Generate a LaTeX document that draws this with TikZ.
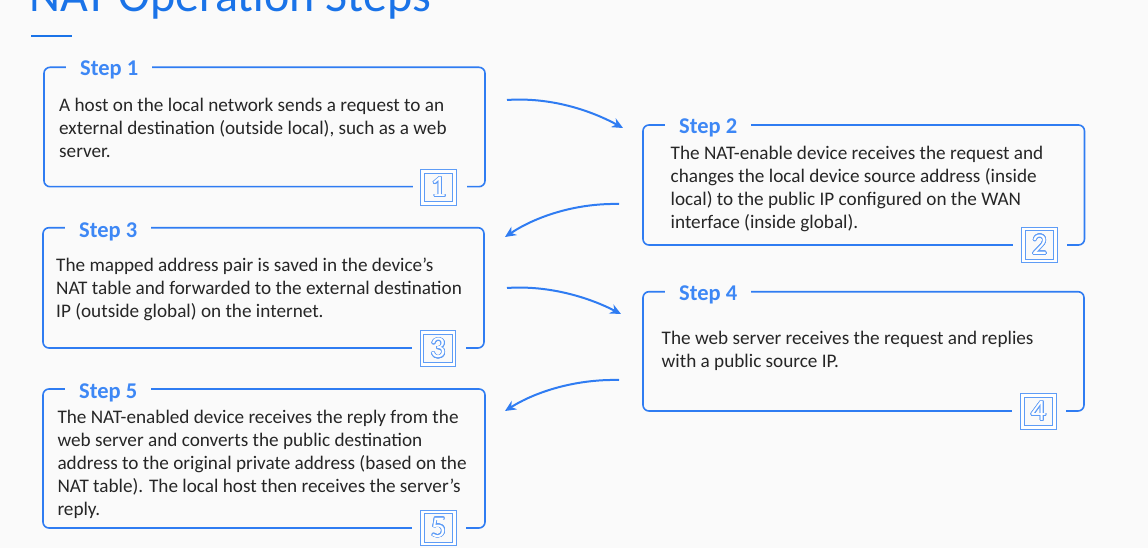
\documentclass[tikz,border=0pt]{standalone}
\usepackage{fontspec}
\setmainfont{Carlito}
\usepackage{contour}
\usetikzlibrary{arrows.meta}
\definecolor{bg}{HTML}{FAFAFA}
\definecolor{titleblue}{HTML}{1A73E8}
\definecolor{boxblue}{HTML}{2F7CF2}
\definecolor{stepblue}{HTML}{3D87F5}
\definecolor{numblue}{HTML}{5E9CF6}
\definecolor{txt}{HTML}{262626}
\contourlength{0.7pt}
\contournumber{24}
\tikzset{
  stepframe/.style={draw=boxblue, line width=1.6pt, rounded corners=6pt},
  steplabel/.style={anchor=base west, fill=bg, inner ysep=4pt, inner xsep=14pt, text=stepblue, font=\fontsize{22.5}{24}\selectfont\bfseries},
  body/.style={anchor=base west, inner sep=0pt, align=left, text=txt, font=\fontsize{19.2}{23}\selectfont},
  numgap/.style={fill=bg, minimum width=54pt, minimum height=8pt, inner sep=0pt},
  numbox/.style={draw=numblue, double=white, double distance=2.2pt, line width=1.1pt, minimum size=32pt, inner sep=0pt, font=\fontsize{30}{30}\selectfont},
  flow/.style={draw=boxblue, line width=2pt, -{Stealth[length=11pt,width=10pt]}},
}
\newcommand{\numtxt}[1]{\contour{numblue}{\textcolor{white}{#1}}}
\begin{document}
\begin{tikzpicture}[x=1pt,y=-1pt]
\fill[bg] (0,0) rectangle (1148,548);
\useasboundingbox (0,0) rectangle (1148,548);
% title
\node[anchor=base west, inner sep=0pt, text=titleblue, font=\fontsize{48}{50}\selectfont] (title) at (29,11.7) {NAT Operation Steps};
\draw[titleblue, line width=2pt] (31,36) -- (72,36);
% frames
\draw[stepframe] (44,67.3) rectangle (485,186.7);
\draw[stepframe] (643,125) rectangle (1084.5,245);
\draw[stepframe] (43,227.7) rectangle (484,348);
\draw[stepframe] (643,291.7) rectangle (1084,411);
\draw[stepframe] (43,389) rectangle (485,528);
% step labels
\node[steplabel] (s1) at (66,75.7) {Step 1};
\node[steplabel] (s2) at (665,134) {Step 2};
\node[steplabel] (s3) at (65,237.2) {Step 3};
\node[steplabel] (s4) at (665,300.7) {Step 4};
\node[steplabel] (s5) at (65,398.5) {Step 5};
% bodies (base anchor = last line)
\node[body] (t1) at (59,157.7) {A host on the local network sends a request to an\\external destination (outside local), such as a web\\server.};
\node[body] (t2) at (670.5,228.3) {The NAT-enable device receives the request and\\changes the local device source address (inside\\local) to the public IP configured on the WAN\\interface (inside global).};
\node[body] (t3) at (56,317.7) {The mapped address pair is saved in the device’s\\NAT table and forwarded to the external destination\\IP (outside global) on the internet.};
\node[body] (t4) at (661.5,367.3) {The web server receives the request and replies\\with a public source IP.};
\node[body] (t5) at (57.3,515.3) {The NAT-enabled device receives the reply from the\\web server and converts the public destination\\address to the original private address (based on the\\NAT table). The local host then receives the server’s\\reply.};
% number boxes
\node[numgap] (g1) at (440,186.7) {};
\node[numgap] (g2) at (1040,245) {};
\node[numgap] (g3) at (439,348) {};
\node[numgap] (g4) at (1039,411) {};
\node[numgap] (g5) at (439,528) {};
\node[numbox] (n1) at (438.5,187.5) {\numtxt{1}};
\node[numbox] (n2) at (1039.5,245) {\numtxt{2}};
\node[numbox] (n3) at (438,348.5) {\numtxt{3}};
\node[numbox] (n4) at (1038.5,411.5) {\numtxt{4}};
\node[numbox] (n5) at (438.5,528) {\numtxt{5}};
% connectors
\coordinate (a1s) at (507,100);
\coordinate (a1e) at (623,128);
\coordinate (a2s) at (619,204);
\coordinate (a2e) at (505,237);
\coordinate (a3s) at (507,288);
\coordinate (a3e) at (621,314);
\coordinate (a4s) at (619,380);
\coordinate (a4e) at (505,411);
\draw[flow] (a1s) .. controls (550,97) and (590,110) .. (a1e);
\draw[flow] (a2s) .. controls (575,203) and (535,217) .. (a2e);
\draw[flow] (a3s) .. controls (550,285) and (590,298) .. (a3e);
\draw[flow] (a4s) .. controls (575,379) and (535,392) .. (a4e);
\end{tikzpicture}
\end{document}
